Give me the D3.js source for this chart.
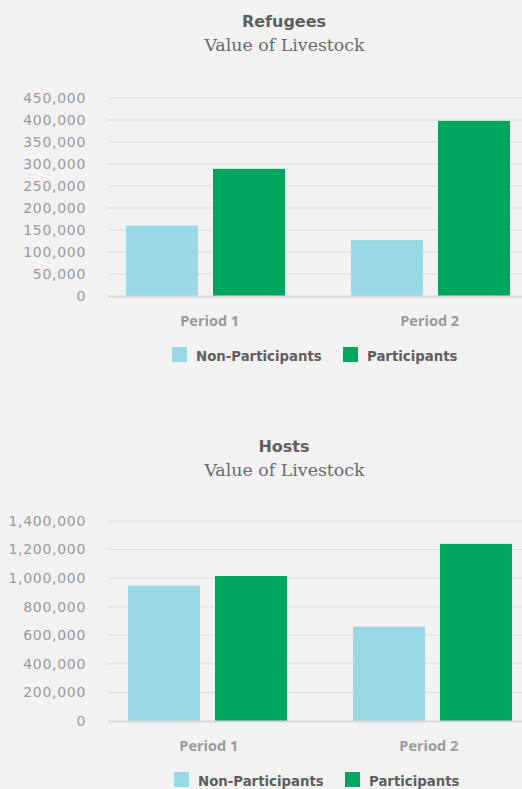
<!DOCTYPE html>
<html>
<head>
<meta charset="utf-8">
<script src="https://cdn.jsdelivr.net/npm/d3@7"></script>
<style>
  html, body { margin: 0; padding: 0; background: #f2f2f2; }
  svg { display: block; }
</style>
</head>
<body>
<svg id="chart" width="522" height="789"></svg>
<script>
// ---- Data ----
const periods = ["Period 1", "Period 2"];
const seriesNames = ["Non-Participants", "Participants"];
const seriesColors = ["#99d8e5", "#00a65d"];

const refugeesNonParticipants = [160000, 127000];
const refugeesParticipants = [289000, 398000];
const refugeesTicks = [0, 50000, 100000, 150000, 200000, 250000, 300000, 350000, 400000, 450000];

const hostsNonParticipants = [947000, 660000];
const hostsParticipants = [1015000, 1240000];
const hostsTicks = [0, 200000, 400000, 600000, 800000, 1000000, 1200000, 1400000];

const titles = ["Refugees", "Hosts"];
const subtitle = "Value of Livestock";

// ---- Layout ----
const svg = d3.select("#chart");
const W = 522;
const fmt = d3.format(",");

const panels = [
  { title: titles[0], np: refugeesNonParticipants, p: refugeesParticipants, ticks: refugeesTicks,
    titleY: 27, subY: 51, y0: 296, y1: 98, xStart: 93, catY: 325.5, labX: [209.7, 429.7], legY: 347, legX: 172 },
  { title: titles[1], np: hostsNonParticipants, p: hostsParticipants, ticks: hostsTicks,
    titleY: 452, subY: 476, y0: 721, y1: 521, xStart: 95, catY: 750.5, labX: [208.8, 428.8], legY: 772, legX: 174 }
];

panels.forEach(pn => {
  const g = svg.append("g");
  // Titles
  g.append("text").attr("x", 284).attr("y", pn.titleY).attr("text-anchor", "middle")
    .attr("font-family", "DejaVu Sans, sans-serif").attr("font-weight", "bold")
    .attr("font-size", 16).attr("fill", "#5f5f5f").text(pn.title);
  g.append("text").attr("x", 284.5).attr("y", pn.subY).attr("text-anchor", "middle")
    .attr("font-family", "DejaVu Serif, serif").attr("font-size", 17.4)
    .attr("fill", "#6a6a6a").text(subtitle);

  const y = d3.scaleLinear().domain([0, pn.ticks[pn.ticks.length - 1]]).range([pn.y0, pn.y1]);

  // Gridlines
  g.selectAll("line.grid").data(pn.ticks.slice(1)).enter().append("line")
    .attr("x1", 108).attr("x2", W).attr("y1", d => y(d)).attr("y2", d => y(d))
    .attr("stroke", "#dedede").attr("stroke-width", 1);

  // Y tick labels
  g.selectAll("text.tick").data(pn.ticks).enter().append("text")
    .attr("x", 86).attr("y", d => y(d)).attr("dy", "0.35em").attr("text-anchor", "end")
    .attr("font-family", "DejaVu Sans, sans-serif").attr("font-size", 14)
    .attr("letter-spacing", 0.7).attr("fill", "#9a9a9a").text(d => fmt(d));

  // Band scales
  const x0 = d3.scaleBand().domain(periods).range([pn.xStart, pn.xStart + 450])
    .paddingInner(66 / 225).paddingOuter(33 / 225);
  const x1 = d3.scaleBand().domain(seriesNames).range([0, x0.bandwidth()])
    .paddingInner(15 / 87).paddingOuter(0);
  const color = d3.scaleOrdinal().domain(seriesNames).range(seriesColors);
  const xl = d3.scalePoint().domain(periods).range(pn.labX);

  const rows = periods.map((per, i) => ({ period: per, vals: [
    { s: seriesNames[0], v: pn.np[i] }, { s: seriesNames[1], v: pn.p[i] } ] }));

  const grp = g.selectAll("g.grp").data(rows).enter().append("g")
    .attr("transform", d => `translate(${x0(d.period)},0)`);
  grp.selectAll("rect").data(d => d.vals).enter().append("rect")
    .attr("x", d => x1(d.s)).attr("width", x1.bandwidth())
    .attr("y", d => y(d.v)).attr("height", d => y(0) - y(d.v))
    .attr("fill", d => color(d.s));

  // Baseline
  g.append("line").attr("x1", 108).attr("x2", W).attr("y1", y(0) + 0.5).attr("y2", y(0) + 0.5)
    .attr("stroke", "#d9d9d9").attr("stroke-width", 2);

  // Category labels
  g.selectAll("text.cat").data(periods).enter().append("text")
    .attr("x", d => xl(d)).attr("y", pn.catY)
    .attr("text-anchor", "middle").attr("font-family", "'Open Sans', sans-serif")
    .attr("font-weight", "bold").attr("font-size", 14.5).attr("fill", "#9a9a9a").text(d => d);

  // Legend
  const legOffsets = [0, 171];
  const leg = g.selectAll("g.leg").data(seriesNames).enter().append("g")
    .attr("transform", (d, i) => `translate(${pn.legX + legOffsets[i]},${pn.legY})`);
  leg.append("rect").attr("width", 15).attr("height", 15).attr("fill", d => color(d));
  leg.append("text").attr("x", 24).attr("y", 8.5).attr("dy", "0.38em")
    .attr("font-family", "DejaVu Sans, sans-serif").attr("font-weight", "bold")
    .attr("font-size", 13.3).attr("fill", "#5f5f5f").text(d => d);
});
</script>
</body>
</html>
